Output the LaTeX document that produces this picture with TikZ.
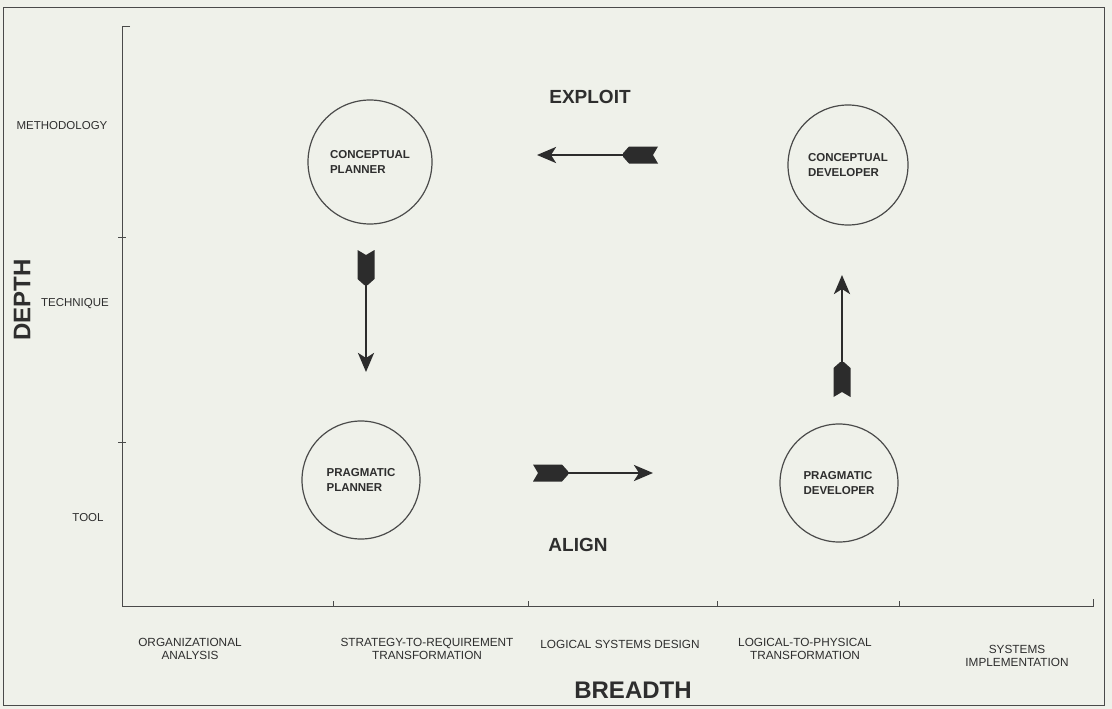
\documentclass[tikz,border=0pt]{standalone}
\usepackage{fontspec}
\setmainfont{Liberation Sans}
\usetikzlibrary{arrows.meta,calc}
\definecolor{paper}{HTML}{EFF1EA}
\definecolor{ink}{HTML}{2E2E2E}
\definecolor{linec}{HTML}{4A4A4A}
\definecolor{arrowc}{HTML}{2C2C2C}
\tikzset{
  role/.style={circle,draw=linec,line width=1.2pt,minimum size=#1,inner sep=0pt,align=left,
    font=\fontsize{11.5}{14.5}\selectfont\bfseries,text=ink},
  lvl/.style={font=\fontsize{11.5}{14}\selectfont,text=ink},
  phase/.style={font=\fontsize{11.8}{13}\selectfont,text=ink,align=center},
  axistitle/.style={font=\fontsize{24}{28}\selectfont\bfseries,text=ink},
  flowlabel/.style={font=\fontsize{19}{22}\selectfont\bfseries,text=ink},
  axisline/.style={draw=linec,line width=1pt},
  shaft/.style={draw=arrowc,line width=2.8pt,-{Stealth[length=19pt,width=16pt,inset=5pt]}},
  fletchfill/.style={fill=arrowc},
}
\newcommand\fletcharrow[2]{%
  \coordinate (fa) at ($(#1)!35pt!(#2)$);
  \coordinate (fb) at ($(#1)!29pt!(#2)$);
  \coordinate (fc) at ($(#1)!5pt!(#2)$);
  \fill[fletchfill] ($(#1)!8.5pt!90:(#2)$) -- (fc) -- ($(#1)!8.5pt!-90:(#2)$)
     -- ($(fb)!8.5pt!-90:(#2)$) -- ($(fa)!1.8pt!-90:(#2)$) -- ($(fa)!1.8pt!90:(#2)$)
     -- ($(fb)!8.5pt!90:(#2)$) -- cycle;
  \draw[shaft] (fb) -- (#2);
}
\begin{document}
\begin{tikzpicture}[x=1pt,y=-1pt]
  \fill[paper] (0,0) rectangle (1112,709);
  \useasboundingbox (0,0) rectangle (1112,709);
  % frame
  \draw[draw=linec,line width=1pt] (3,8) rectangle (1104,705);
  % axes
  \draw[axisline] (130,27) -- (122,27) -- (122,606) -- (1093,606) -- (1093,599);
  \draw[axisline] (118,237) -- (126,237);
  \draw[axisline] (118,442) -- (126,442);
  \foreach \xx in {333,528,717,899} \draw[axisline] (\xx,606) -- (\xx,601);
  % level labels
  \node[lvl] (meth) at (62,126) {METHODOLOGY};
  \node[lvl] (tech) at (75,304) {TECHNIQUE};
  \node[lvl] (tool) at (88,518) {TOOL};
  \node[axistitle,rotate=90] (depth) at (22,300) {DEPTH};
  % phase labels
  \node[phase] (ph1) at (190,649) {ORGANIZATIONAL\\ANALYSIS};
  \node[phase] (ph2) at (427,649) {STRATEGY-TO-REQUIREMENT\\TRANSFORMATION};
  \node[phase] (ph3) at (620,644) {LOGICAL SYSTEMS DESIGN};
  \node[phase] (ph4) at (805,649) {LOGICAL-TO-PHYSICAL\\TRANSFORMATION};
  \node[phase] (ph5) at (1017,656) {SYSTEMS\\IMPLEMENTATION};
  \node[axistitle] (breadth) at (633,690) {BREADTH};
  % roles
  \node[role=124pt] (cp) at (370,162) {CONCEPTUAL\\PLANNER};
  \node[role=120pt] (cd) at (848,165) {CONCEPTUAL\\DEVELOPER};
  \node[role=118pt] (pp) at (361,480) {PRAGMATIC\\PLANNER};
  \node[role=118pt] (pd) at (839,483) {PRAGMATIC\\DEVELOPER};
  % flow labels
  \node[flowlabel] (exploit) at (590,97) {EXPLOIT};
  \node[flowlabel] (align) at (578,545) {ALIGN};
  % arrows
  \coordinate (exT) at (658,155);
  \coordinate (exH) at (537,155);
  \coordinate (dnT) at (366,250);
  \coordinate (dnH) at (366,372);
  \coordinate (upT) at (842,397);
  \coordinate (upH) at (842,275);
  \coordinate (alT) at (533,473);
  \coordinate (alH) at (653,473);
  \fletcharrow{exT}{exH}
  \fletcharrow{dnT}{dnH}
  \fletcharrow{upT}{upH}
  \fletcharrow{alT}{alH}
\end{tikzpicture}
\end{document}
